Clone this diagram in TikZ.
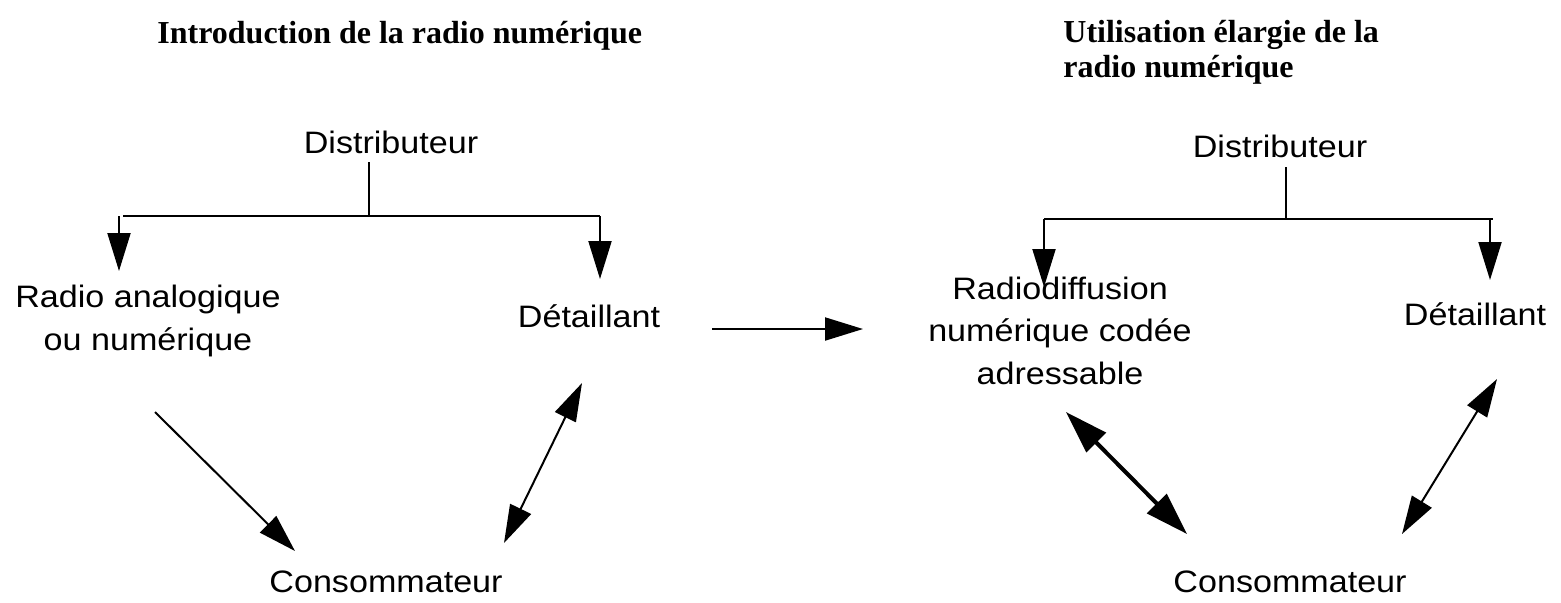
\documentclass[tikz,border=0pt]{standalone}
\usepackage{fontspec}
\newfontfamily\lblfont[FakeStretch=1.1]{Liberation Sans}
\newfontfamily\ttlfont{Liberation Serif}
\usetikzlibrary{arrows.meta}
\tikzstyle{lbl} = [inner sep=0pt, align=center, anchor=base, font=\lblfont\fontsize{15.5}{21.25}\selectfont]
\tikzstyle{ttl} = [inner sep=0pt, align=left, anchor=base west, font=\ttlfont\bfseries\fontsize{16}{17.5}\selectfont]
\tikzstyle{bar} = [line width=1pt]
\tikzstyle{arrow} = [line width=1pt, -{Triangle[length=19pt,width=11.5pt]}]
\tikzstyle{dblarrow} = [line width=1pt, {Triangle[length=19pt,width=11.5pt]}-{Triangle[length=19pt,width=11.5pt]}]
\tikzstyle{thickarrow} = [line width=2pt, {Triangle[length=21.5pt,width=13.5pt]}-{Triangle[length=21.5pt,width=13.5pt]}]

\begin{document}
\begin{tikzpicture}[x=0.5pt, y=-0.5pt]
\useasboundingbox (0,0) rectangle (1561,602);

% titles (base = last line)
\node (ttlA) [ttl] at (157,43) {Introduction de la radio numérique};
\node (ttlB) [ttl] at (1063,77) {Utilisation élargie de la\\radio numérique};

% before
\node (distA) [lbl] at (391,153) {Distributeur};
\node (radA) [lbl] at (148,350) {Radio analogique\\ou numérique};
\node (detA) [lbl] at (589,327) {Détaillant};
\node (consA) [lbl] at (386,592) {Consommateur};

\coordinate (tkA) at (369,162);
\coordinate (jA) at (369,216);
\coordinate (barAl) at (123,216);
\coordinate (barAr) at (600,216);
\coordinate (tipAl) at (119,271);
\coordinate (tipAr) at (600,279);
\coordinate (radAs) at (155,412);
\coordinate (consAl) at (295,551);
\coordinate (consAr) at (504,543);
\coordinate (detAs) at (582,383);

\draw [bar] (tkA) -- (jA);
\draw [bar] (barAl) -- (barAr);
\draw [arrow] (tipAl |- barAl) -- (tipAl);
\draw [arrow] (barAr) -- (tipAr);
\draw [arrow] (radAs) -- (consAl);
\draw [dblarrow] (consAr) -- (detAs);

% from before to after
\coordinate (midS) at (712,329);
\coordinate (midE) at (863,329);
\draw [arrow] (midS) -- (midE);

% after
\node (distB) [lbl] at (1280,157) {Distributeur};
\node (radB) [lbl] at (1060,384) {Radiodiffusion\\numérique codée\\adressable};
\node (detB) [lbl] at (1475,325) {Détaillant};
\node (consB) [lbl] at (1290,592) {Consommateur};

\coordinate (tkB) at (1286,167);
\coordinate (jB) at (1286,220);
\coordinate (barBl) at (1044,219);
\coordinate (barBr) at (1493,219);
\coordinate (tipBl) at (1044,287);
\coordinate (tipBr) at (1490,280);
\coordinate (radBs) at (1066,412);
\coordinate (consBl) at (1187,534);
\coordinate (consBr) at (1402,534);
\coordinate (detBs) at (1497,379);

\draw [bar] (tkB) -- (jB);
\draw [bar] (barBl) -- (barBr);
\draw [arrow] (barBl) -- (tipBl);
\draw [arrow] (tipBr |- barBr) -- (tipBr);
\draw [thickarrow] (radBs) -- (consBl);
\draw [dblarrow] (consBr) -- (detBs);
\end{tikzpicture}
\end{document}
